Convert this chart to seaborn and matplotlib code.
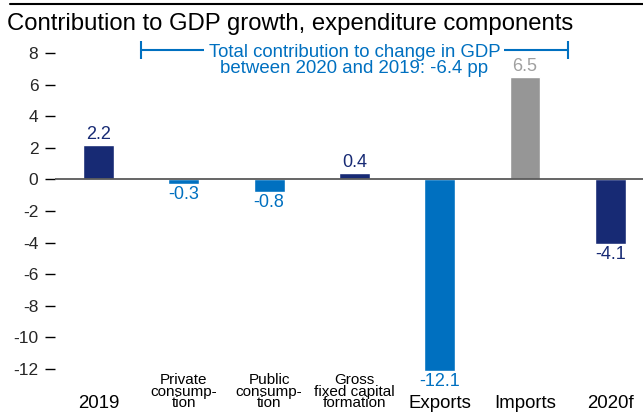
import matplotlib
matplotlib.use("Agg")
import matplotlib.pyplot as plt
import matplotlib.transforms as mtransforms
from matplotlib.lines import Line2D
import seaborn as sns
import pandas as pd

# Contribution to GDP growth by expenditure component (percentage points)
categories = ["2019", "Private\nconsump-\ntion", "Public\nconsump-\ntion",
              "Gross\nfixed capital\nformation", "Exports", "Imports", "2020f"]
values = [2.2, -0.3, -0.8, 0.4, -12.1, 6.5, -4.1]
value_labels = ["2.2", "-0.3", "-0.8", "0.4", "-12.1", "6.5", "-4.1"]
small_label = [False, True, True, True, False, False, False]
yticks = [8, 6, 4, 2, 0, -2, -4, -6, -8, -10, -12]
ytick_labels = ["8", "6", "4", "2", "0", "-2", "-4", "-6", "-8", "-10", "-12"]
total_note = "Total contribution to change in GDP\nbetween 2020 and 2019: -6.4 pp"

NAVY = "#172a74"
BLUE = "#0070c0"
GREY = "#969696"
bar_colors = [NAVY, BLUE, BLUE, NAVY, BLUE, GREY, NAVY]
label_colors = [NAVY, BLUE, BLUE, NAVY, BLUE, "#a0a0a0", NAVY]

sns.set_theme(style="white")
plt.rcParams["font.family"] = ["Liberation Sans", "DejaVu Sans"]

W, H = 643, 412
fig = plt.figure(figsize=(W / 100, H / 100), dpi=100)

ymin, ymax = -13.0, 9.5
left_px, zero_px, unit_px = 55, 179.5, 15.8
ax_bottom = (H - (zero_px - ymin * unit_px)) / H
ax_top = (H - (zero_px - ymax * unit_px)) / H
ax = fig.add_axes([left_px / W, ax_bottom, 1 - left_px / W, ax_top - ax_bottom])

df = pd.DataFrame({"category": categories, "value": values})
sns.barplot(data=df, x="category", y="value", hue="category",
            palette=dict(zip(categories, bar_colors)), order=categories,
            hue_order=categories, width=0.363, legend=False, ax=ax,
            saturation=1)

x_per_px = 1 / 85.3
ax.set_xlim(-(98.5 - left_px) * x_per_px, (W - 98.5) * x_per_px)
ax.set_ylim(ymin, ymax)

for spine in ax.spines.values():
    spine.set_visible(False)

ax.axhline(0, color="#595959", lw=1.3, zorder=3)

ax.set_yticks(yticks)
ax.set_yticklabels(ytick_labels, fontsize=12.5)
ax.tick_params(axis="y", length=7.5, width=1.0, color="black", pad=4.5,
               left=True, direction="out")
ax.set_xticks([])
ax.set_xlabel("")
ax.set_ylabel("")

# Value labels on each bar
for i, cont in enumerate(ax.containers):
    idx = categories.index(cont.get_label()) if cont.get_label() in categories else i
    ax.bar_label(cont, labels=[value_labels[idx]], color=label_colors[idx],
                 fontsize=13, padding=1.5)

# Category labels under the plot
xform = mtransforms.blended_transform_factory(ax.transData, fig.transFigure)
for i, (cat, small) in enumerate(zip(categories, small_label)):
    if small:
        ax.text(i, 1 - 373 / H, cat, transform=xform, ha="center", va="top",
                fontsize=11, linespacing=0.78, color="black", clip_on=False)
    else:
        ax.text(i, 1 - 408 / H, cat, transform=xform, ha="center",
                va="baseline", fontsize=13.4, color="black", clip_on=False)

# Bracket spanning from 2019 to 2020f with note
bracket_y = 8.2
ax.plot([0.5, 5.5], [bracket_y, bracket_y], color=BLUE, lw=1.5,
        marker="|", markersize=13, mew=1.5, zorder=2, clip_on=False)
ax.text(3.0, 8.57, total_note, ha="center", va="top", fontsize=13.4,
        color=BLUE, linespacing=0.9, zorder=4,
        bbox=dict(boxstyle="square,pad=0.22", fc="white", ec="none"))

# Title and top rule
fig.text(7 / W, 1 - 30 / H, "Contribution to GDP growth, expenditure components",
         fontsize=17.2, va="baseline", ha="left", color="black")
fig.add_artist(Line2D([10 / W, 1.0], [1 - 4 / H, 1 - 4 / H],
                      transform=fig.transFigure, color="black", lw=1.5))

fig.savefig("out.png", dpi=100)
